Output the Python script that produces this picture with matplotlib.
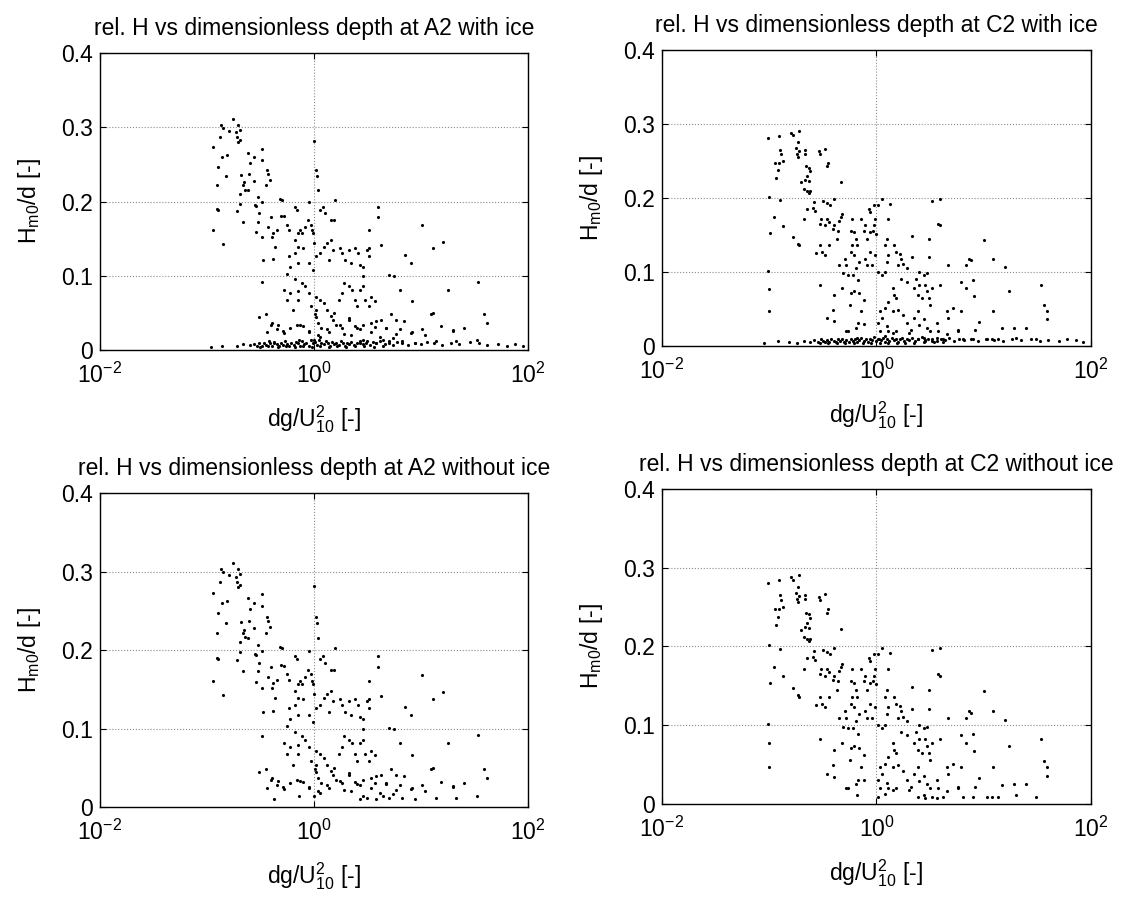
import numpy as np
import matplotlib
matplotlib.use("Agg")
from matplotlib import pyplot as plt
from matplotlib.ticker import FixedLocator, FixedFormatter, NullLocator

plt.rcParams['font.family'] = ['Liberation Sans', 'DejaVu Sans']
plt.rcParams['mathtext.fontset'] = 'custom'
plt.rcParams['mathtext.rm'] = 'Liberation Sans'
plt.rcParams['mathtext.it'] = 'Liberation Sans'

# points as (log10 of dg/U10^2, Hm0/d)
# A2 open water (shown in both A2 panels)
a2_open = [
    (-0.76, 0.311), (-0.87, 0.303), (-0.85, 0.299), (-0.79, 0.295), (-0.71, 0.303),
    (-0.69, 0.297), (-0.73, 0.293), (-0.72, 0.287), (-0.69, 0.283), (-0.71, 0.280),
    (-0.88, 0.287), (-0.94, 0.273), (-0.86, 0.260), (-0.81, 0.262), (-0.90, 0.247),
    (-0.82, 0.234), (-0.91, 0.222), (-0.91, 0.190), (-0.90, 0.188), (-0.94, 0.161),
    (-0.85, 0.143), (-0.49, 0.271), (-0.56, 0.260), (-0.62, 0.266), (-0.60, 0.252),
    (-0.61, 0.237), (-0.56, 0.228), (-0.65, 0.226), (-0.66, 0.222), (-0.64, 0.216),
    (-0.62, 0.215), (-0.69, 0.210), (-0.69, 0.197), (-0.72, 0.187), (-0.66, 0.173),
    (-0.68, 0.236), (-0.49, 0.256), (-0.44, 0.242), (-0.43, 0.237), (-0.41, 0.229),
    (-0.45, 0.222), (-0.52, 0.206), (-0.49, 0.199), (-0.55, 0.195), (-0.54, 0.194),
    (-0.51, 0.184), (-0.52, 0.173), (-0.49, 0.152), (-0.54, 0.159), (-0.48, 0.121),
    (-0.49, 0.091), (-0.51, 0.045), (-0.45, 0.048), (-0.32, 0.204), (-0.30, 0.202),
    (-0.40, 0.179), (-0.43, 0.166), (-0.35, 0.162), (-0.38, 0.158), (-0.39, 0.152),
    (-0.36, 0.139), (-0.38, 0.122), (-0.31, 0.181), (-0.28, 0.180), (-0.25, 0.169),
    (-0.23, 0.162), (-0.18, 0.193), (-0.16, 0.188), (-0.15, 0.157), (-0.18, 0.148),
    (-0.15, 0.139), (-0.11, 0.157), (-0.10, 0.137), (-0.13, 0.161), (-0.08, 0.166),
    (-0.06, 0.175), (-0.05, 0.199), (-0.03, 0.169), (-0.02, 0.161), (-0.01, 0.157),
    (0.00, 0.144), (0.02, 0.242), (0.03, 0.235), (0.04, 0.215), (0.00, 0.282),
    (0.06, 0.188), (0.08, 0.192), (0.10, 0.184), (0.16, 0.175), (0.19, 0.175),
    (0.20, 0.202), (-0.23, 0.126), (-0.18, 0.130), (-0.22, 0.112), (-0.25, 0.103),
    (-0.18, 0.095), (-0.11, 0.090), (-0.15, 0.117), (-0.05, 0.117), (-0.01, 0.108),
    (0.02, 0.126), (0.06, 0.130), (0.09, 0.139), (0.12, 0.144), (0.16, 0.148),
    (0.14, 0.121), (0.18, 0.135), (0.24, 0.137), (0.26, 0.130), (0.29, 0.121),
    (0.33, 0.135), (0.35, 0.117), (0.38, 0.137), (0.41, 0.130), (0.43, 0.115),
    (0.46, 0.112), (0.50, 0.135), (0.51, 0.126), (0.46, 0.099), (-0.28, 0.081),
    (-0.22, 0.077), (-0.15, 0.079), (-0.25, 0.068), (-0.20, 0.054), (-0.15, 0.068),
    (-0.08, 0.086), (-0.05, 0.077), (0.02, 0.072), (0.06, 0.068), (-0.03, 0.059),
    (0.02, 0.054), (0.09, 0.063), (0.12, 0.054), (0.19, 0.050), (0.23, 0.068),
    (0.26, 0.077), (0.28, 0.090), (0.33, 0.086), (0.36, 0.081), (0.38, 0.068),
    (0.40, 0.059), (0.43, 0.081), (0.46, 0.086), (0.48, 0.068), (0.53, 0.072),
    (0.51, 0.059), (0.57, 0.066), (-0.40, 0.034), (-0.35, 0.028), (-0.28, 0.023),
    (-0.22, 0.030), (-0.16, 0.034), (-0.10, 0.032), (-0.05, 0.025), (0.02, 0.045),
    (0.04, 0.037), (0.07, 0.030), (0.12, 0.028), (0.18, 0.041), (0.21, 0.034),
    (0.26, 0.030), (0.33, 0.041), (0.38, 0.032), (0.43, 0.028), (0.46, 0.034),
    (0.53, 0.037), (0.58, 0.039), (0.63, 0.041), (0.67, 0.030), (0.72, 0.048),
    (0.77, 0.041), (0.80, 0.028), (0.84, 0.039), (0.91, 0.023), (1.01, 0.028),
    (1.09, 0.048), (1.19, 0.032), (1.30, 0.025), (1.40, 0.030), (1.53, 0.092),
    (1.59, 0.048), (1.62, 0.037), (0.60, 0.193), (0.60, 0.179), (0.51, 0.161),
    (0.51, 0.137), (0.63, 0.141), (0.75, 0.099), (0.80, 0.081), (0.85, 0.128),
    (0.91, 0.117), (0.92, 0.066), (1.01, 0.168), (1.11, 0.137), (1.11, 0.050),
    (1.21, 0.146), (1.25, 0.081), (0.70, 0.101),
    (-0.37, 0.010), (-0.39, 0.037), (-0.44, 0.024), (-0.34, 0.033), (-0.29, 0.025),
    (-0.14, 0.014), (-0.13, 0.033), (-0.05, 0.024), (0.00, 0.014), (0.01, 0.048),
    (0.04, 0.020), (0.06, 0.018), (0.14, 0.024), (0.16, 0.046), (0.24, 0.033),
    (0.28, 0.022), (0.33, 0.043), (0.35, 0.020), (0.40, 0.029), (0.43, 0.010),
    (0.46, 0.014), (0.50, 0.012), (0.53, 0.024), (0.57, 0.031), (0.58, 0.010),
    (0.62, 0.018), (0.65, 0.014), (0.67, 0.029), (0.70, 0.012), (0.74, 0.016),
    (0.77, 0.022), (0.82, 0.012), (0.92, 0.024), (0.94, 0.010), (1.04, 0.020),
    (1.14, 0.012), (1.33, 0.012), (1.52, 0.014), (1.30, 0.027),
]

# A2 ice-covered records (flat band near zero)
a2_ice = [
    (-0.96, 0.004), (-0.86, 0.006), (-0.72, 0.006), (-0.66, 0.008), (-0.60, 0.007),
    (-0.56, 0.008), (-0.53, 0.005), (-0.51, 0.009), (-0.49, 0.006), (-0.47, 0.010),
    (-0.45, 0.007), (-0.43, 0.005), (-0.41, 0.009), (-0.39, 0.006), (-0.37, 0.011),
    (-0.35, 0.008), (-0.33, 0.005), (-0.31, 0.010), (-0.29, 0.007), (-0.27, 0.012),
    (-0.25, 0.008), (-0.23, 0.006), (-0.21, 0.010), (-0.19, 0.007), (-0.17, 0.011),
    (-0.15, 0.009), (-0.13, 0.006), (-0.11, 0.012), (-0.09, 0.008), (-0.07, 0.010),
    (-0.05, 0.006), (-0.03, 0.013), (-0.01, 0.009), (0.01, 0.011), (0.03, 0.007),
    (0.05, 0.014), (0.07, 0.010), (0.09, 0.008), (0.11, 0.012), (0.13, 0.009),
    (0.15, 0.006), (0.17, 0.011), (0.19, 0.008), (0.21, 0.010), (0.23, 0.007),
    (0.25, 0.012), (0.27, 0.009), (0.29, 0.006), (0.31, 0.010), (0.33, 0.008),
    (0.35, 0.011), (0.37, 0.007), (0.40, 0.009), (0.43, 0.012), (0.46, 0.008),
    (0.49, 0.010), (0.52, 0.007), (0.55, 0.011), (0.58, 0.009), (0.62, 0.012),
    (0.66, 0.008), (0.70, 0.010), (0.74, 0.007), (0.78, 0.011), (0.82, 0.009),
    (0.88, 0.007), (0.94, 0.010), (1.00, 0.008), (1.06, 0.011), (1.12, 0.009),
    (1.20, 0.007), (1.28, 0.010), (1.36, 0.008), (1.46, 0.011), (1.54, 0.009),
    (1.62, 0.007), (1.72, 0.008), (1.80, 0.006), (1.88, 0.008), (1.95, 0.006),
    (-0.50, 0.004), (-0.42, 0.012), (-0.34, 0.004), (-0.26, 0.005), (-0.18, 0.004),
    (-0.10, 0.005), (-0.02, 0.004), (0.06, 0.005), (0.14, 0.004), (0.22, 0.005),
    (0.30, 0.004), (0.38, 0.005), (0.47, 0.005), (0.56, 0.004), (0.65, 0.005),
]

# C2 open water
c2_open = [
    (-1.01, 0.281), (-0.91, 0.284), (-0.80, 0.288), (-0.78, 0.285), (-0.72, 0.291),
    (-0.73, 0.276), (-0.75, 0.268), (-0.72, 0.264), (-0.67, 0.265), (-0.90, 0.265),
    (-0.89, 0.259), (-0.95, 0.247), (-0.91, 0.247), (-0.87, 0.250), (-0.92, 0.238),
    (-0.94, 0.227), (-0.90, 0.197), (-1.00, 0.202), (-0.96, 0.174), (-0.87, 0.162),
    (-0.99, 0.153), (-0.78, 0.147), (-0.73, 0.138), (-0.72, 0.136), (-1.01, 0.101),
    (-1.00, 0.077), (-1.00, 0.047), (-0.74, 0.260), (-0.67, 0.260), (-0.73, 0.256),
    (-0.66, 0.243), (-0.63, 0.241), (-0.62, 0.236), (-0.65, 0.230), (-0.67, 0.225),
    (-0.63, 0.223), (-0.70, 0.221), (-0.68, 0.212), (-0.62, 0.210), (-0.65, 0.210),
    (-0.63, 0.207), (-0.54, 0.263), (-0.53, 0.259), (-0.48, 0.266), (-0.45, 0.247),
    (-0.46, 0.243), (-0.33, 0.222), (-0.58, 0.194), (-0.59, 0.187), (-0.65, 0.185),
    (-0.57, 0.183), (-0.68, 0.172), (-0.50, 0.196), (-0.46, 0.193), (-0.40, 0.198),
    (-0.43, 0.190), (-0.52, 0.172), (-0.53, 0.165), (-0.46, 0.172), (-0.44, 0.168),
    (-0.48, 0.163), (-0.40, 0.163), (-0.41, 0.158), (-0.36, 0.156), (-0.35, 0.169),
    (-0.32, 0.178), (-0.33, 0.174), (-0.37, 0.145), (-0.44, 0.136), (-0.53, 0.136),
    (-0.56, 0.126), (-0.51, 0.127), (-0.48, 0.123), (-0.53, 0.083), (-0.41, 0.049),
    (-0.46, 0.038), (-0.40, 0.034), (-0.40, 0.069), (-0.35, 0.109), (-0.31, 0.098),
    (-0.32, 0.078), (-0.29, 0.118), (-0.28, 0.109), (-0.27, 0.096), (-0.25, 0.056),
    (-0.24, 0.071), (-0.28, 0.020), (-0.23, 0.172), (-0.24, 0.156), (-0.21, 0.154),
    (-0.19, 0.145), (-0.23, 0.136), (-0.24, 0.127), (-0.21, 0.123), (-0.18, 0.136),
    (-0.16, 0.114), (-0.19, 0.105), (-0.22, 0.096), (-0.17, 0.089), (-0.21, 0.074),
    (-0.16, 0.071), (-0.12, 0.062), (-0.17, 0.031), (-0.19, 0.025), (-0.14, 0.047),
    (-0.14, 0.172), (-0.11, 0.163), (-0.12, 0.156), (-0.07, 0.185), (-0.06, 0.181),
    (-0.02, 0.190), (0.01, 0.190), (-0.01, 0.172), (-0.02, 0.163), (-0.03, 0.156),
    (0.00, 0.152), (-0.06, 0.154), (-0.09, 0.145), (-0.06, 0.127), (-0.01, 0.123),
    (-0.11, 0.118), (-0.09, 0.109), (-0.04, 0.109), (0.01, 0.100), (0.05, 0.096),
    (0.08, 0.100), (0.10, 0.114), (0.11, 0.123), (0.08, 0.136), (0.10, 0.145),
    (0.11, 0.172), (0.13, 0.192), (0.05, 0.198), (0.16, 0.136), (0.18, 0.127),
    (0.22, 0.125), (0.23, 0.118), (0.20, 0.109), (0.25, 0.111), (0.28, 0.105),
    (0.23, 0.091), (0.28, 0.087), (0.33, 0.120), (0.33, 0.149), (0.40, 0.100),
    (0.37, 0.091), (0.40, 0.082), (0.35, 0.078), (0.39, 0.069), (0.42, 0.065),
    (0.45, 0.082), (0.47, 0.074), (0.49, 0.065), (0.50, 0.056), (0.52, 0.078),
    (0.47, 0.098), (0.44, 0.096), (0.49, 0.120), (0.49, 0.145), (0.59, 0.163),
    (0.59, 0.198), (0.59, 0.082), (0.15, 0.078), (0.16, 0.069), (0.18, 0.065),
    (0.11, 0.060), (0.08, 0.051), (0.03, 0.047), (0.05, 0.038), (0.01, 0.031),
    (0.10, 0.027), (0.11, 0.020), (0.18, 0.020), (0.15, 0.047), (0.20, 0.049),
    (0.25, 0.042), (0.28, 0.031), (0.32, 0.022), (0.35, 0.038), (0.39, 0.047),
    (0.40, 0.029), (0.44, 0.036), (0.47, 0.025), (0.50, 0.020), (0.56, 0.031),
    (0.57, 0.020), (0.66, 0.047), (0.67, 0.038), (0.71, 0.051), (0.76, 0.020),
    (0.79, 0.047), (0.83, 0.078), (0.83, 0.109), (0.79, 0.087), (0.90, 0.089),
    (0.91, 0.067), (0.92, 0.022), (0.96, 0.033), (0.86, 0.118), (0.88, 0.116),
    (1.00, 0.143), (1.09, 0.118), (1.09, 0.047), (1.20, 0.107), (1.24, 0.074),
    (1.28, 0.025), (1.39, 0.025), (1.53, 0.082), (1.56, 0.055), (1.59, 0.047),
    (1.59, 0.036), (0.67, 0.109), (0.52, 0.196), (0.57, 0.165),
    (-0.27, 0.020), (-0.18, 0.011), (-0.12, 0.030), (0.01, 0.009), (0.03, 0.020),
    (0.08, 0.013), (0.15, 0.018), (0.30, 0.018), (0.39, 0.009), (0.44, 0.011),
    (0.45, 0.007), (0.52, 0.009), (0.56, 0.007), (0.62, 0.009), (0.66, 0.016),
    (0.76, 0.022), (0.81, 0.009), (0.90, 0.009), (1.03, 0.009), (1.08, 0.009),
    (1.13, 0.009), (1.17, 0.024), (1.30, 0.011), (1.49, 0.009),
]

# C2 ice-covered records
c2_ice = [
    (-1.05, 0.004), (-0.92, 0.007), (-0.82, 0.006), (-0.74, 0.004), (-0.68, 0.007),
    (-0.62, 0.005), (-0.58, 0.008), (-0.55, 0.006), (-0.52, 0.009), (-0.50, 0.007),
    (-0.48, 0.005), (-0.46, 0.008), (-0.44, 0.006), (-0.42, 0.009), (-0.40, 0.007),
    (-0.38, 0.005), (-0.36, 0.009), (-0.34, 0.007), (-0.32, 0.010), (-0.30, 0.006),
    (-0.28, 0.008), (-0.26, 0.005), (-0.24, 0.009), (-0.22, 0.007), (-0.20, 0.010),
    (-0.18, 0.006), (-0.16, 0.008), (-0.14, 0.011), (-0.12, 0.007), (-0.10, 0.009),
    (-0.08, 0.006), (-0.06, 0.010), (-0.04, 0.008), (-0.02, 0.012), (0.00, 0.007),
    (0.02, 0.010), (0.04, 0.008), (0.06, 0.011), (0.08, 0.006), (0.10, 0.009),
    (0.12, 0.007), (0.14, 0.011), (0.16, 0.008), (0.18, 0.010), (0.20, 0.006),
    (0.22, 0.009), (0.24, 0.011), (0.26, 0.007), (0.28, 0.010), (0.30, 0.008),
    (0.33, 0.011), (0.36, 0.007), (0.39, 0.009), (0.42, 0.012), (0.45, 0.008),
    (0.48, 0.010), (0.52, 0.007), (0.56, 0.011), (0.60, 0.009), (0.64, 0.008),
    (0.68, 0.011), (0.72, 0.007), (0.77, 0.010), (0.82, 0.008), (0.88, 0.009),
    (0.95, 0.007), (1.02, 0.010), (1.10, 0.008), (1.18, 0.007), (1.26, 0.009),
    (1.35, 0.008), (1.44, 0.010), (1.52, 0.007), (1.60, 0.008), (1.70, 0.007),
    (1.78, 0.009), (1.86, 0.008), (1.93, 0.006),
    (-0.53, 0.004), (-0.45, 0.004), (-0.37, 0.004), (-0.29, 0.004), (-0.21, 0.004),
    (-0.13, 0.004), (-0.05, 0.004), (0.03, 0.004), (0.11, 0.004), (0.19, 0.004),
    (0.27, 0.004), (0.35, 0.004), (0.44, 0.005), (0.54, 0.005), (0.62, 0.005),
]

titles = [
    'rel. H vs dimensionless depth at A2 with ice',
    'rel. H vs dimensionless depth at C2 with ice',
    'rel. H vs dimensionless depth at A2 without ice',
    'rel. H vs dimensionless depth at C2 without ice',
]
panels = [a2_open + a2_ice, c2_open + c2_ice, a2_open, c2_open]
rects = [
    [0.0877, 0.6107, 0.3754, 0.3303],
    [0.5807, 0.6151, 0.3763, 0.3293],
    [0.0877, 0.1023, 0.3754, 0.3493],
    [0.5807, 0.1057, 0.3763, 0.3504],
]
xticks = [1e-2, 1e0, 1e2]
xticklabels = [r'$10^{-2}$', r'$10^{0}$', r'$10^{2}$']
yticks = [0, 0.1, 0.2, 0.3, 0.4]
yticklabels = ['0', '0.1', '0.2', '0.3', '0.4']

fs = 16.5

fig = plt.figure(figsize=(11.4, 8.99), dpi=100)

for pts, title, rect in zip(panels, titles, rects):
    ax = fig.add_axes(rect)
    arr = np.array(pts)
    ax.plot(10 ** arr[:, 0], arr[:, 1], '.', color='k', markersize=2.5)
    ax.set_xscale('log')
    ax.set_xlim(1e-2, 1e2)
    ax.set_ylim(0, 0.4)
    ax.xaxis.set_major_locator(FixedLocator(xticks))
    ax.xaxis.set_major_formatter(FixedFormatter(xticklabels))
    ax.xaxis.set_minor_locator(NullLocator())
    ax.set_yticks(yticks)
    ax.set_yticklabels(yticklabels)
    ax.grid(True, linestyle=':', color='0.55', linewidth=0.8)
    ax.tick_params(direction='in', top=True, right=True, length=4,
                   labelsize=fs)
    ax.tick_params(axis='x', pad=9)
    ax.tick_params(axis='y', pad=5)
    for sp in ax.spines.values():
        sp.set_linewidth(1.0)
    ax.set_title(title, fontsize=fs, pad=13)
    ax.set_xlabel(r'dg/U$_{10}^{2}$ [-]', fontsize=fs, labelpad=11)
    ax.set_ylabel(r'H$_{\mathrm{m0}}$/d [-]', fontsize=fs, labelpad=13)

fig.savefig('out.png', dpi=100)
